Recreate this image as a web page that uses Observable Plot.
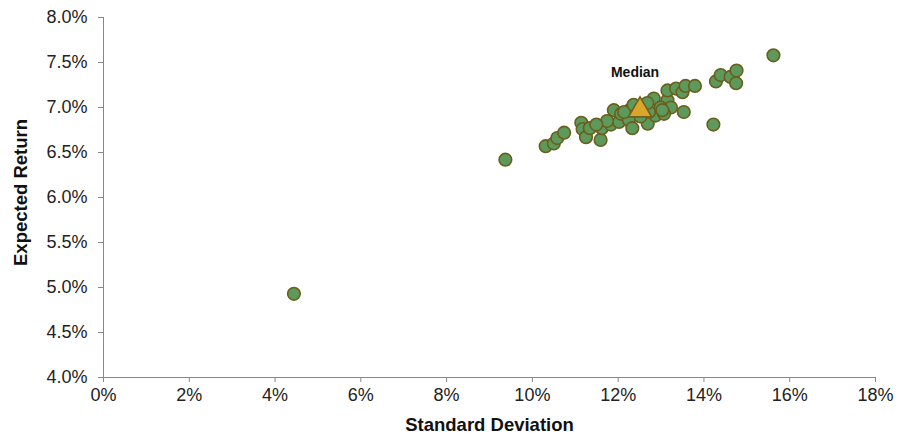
<!DOCTYPE html>
<html>
<head>
<meta charset="utf-8">
<script src="https://cdn.jsdelivr.net/npm/d3@7"></script>
<script src="https://cdn.jsdelivr.net/npm/@observablehq/plot@0.6"></script>
<style>
  body { margin: 0; background: #fff; }
  svg { font-family: "Liberation Sans", Arial, sans-serif; }
</style>
</head>
<body>
<div id="chart"></div>
<script>
// Standard deviation (%) and expected return (%) for each portfolio
const stdDev = [4.44, 9.37, 10.31, 10.50, 10.58, 10.74, 11.14, 11.17, 11.25, 11.34,
  11.59, 11.62, 11.83, 11.90, 12.02, 12.07, 12.25, 12.33, 12.29, 12.14,
  12.69, 12.87, 12.83, 13.15, 13.15, 13.35, 13.50, 13.57, 13.79, 13.23,
  13.07, 13.53, 14.22, 14.28, 14.39, 14.62, 14.76, 14.75, 15.62, 12.72,
  12.99, 12.36, 12.52, 11.74, 11.49, 12.68, 13.03];
const expReturn = [4.93, 6.42, 6.57, 6.60, 6.66, 6.72, 6.83, 6.76, 6.67, 6.77,
  6.64, 6.77, 6.81, 6.97, 6.84, 6.93, 6.86, 6.77, 6.98, 6.95,
  6.82, 6.91, 7.10, 7.08, 7.19, 7.21, 7.17, 7.24, 7.24, 7.00,
  6.93, 6.95, 6.81, 7.29, 7.36, 7.34, 7.41, 7.27, 7.58, 6.95,
  7.00, 7.03, 6.90, 6.85, 6.81, 7.05, 6.97];
const medianStd = [12.51];
const medianRet = [6.97];
const medianLabel = ["Median"];
const xTicks = [0, 2, 4, 6, 8, 10, 12, 14, 16, 18];
const yTicks = [4.0, 4.5, 5.0, 5.5, 6.0, 6.5, 7.0, 7.5, 8.0];
const xTitle = "Standard Deviation";
const yTitle = "Expected Return";

const points = stdDev.map((s, i) => ({x: s, y: expReturn[i]}));
const median = medianStd.map((s, i) => ({x: s, y: medianRet[i], label: medianLabel[i]}));

const chart = Plot.plot({
  width: 901,
  height: 440,
  marginLeft: 103,
  marginRight: 26,
  marginTop: 17,
  marginBottom: 63,
  style: {fontFamily: "'Liberation Sans', Arial, sans-serif", background: "#fff"},
  x: {domain: [0, 18], label: null},
  y: {domain: [4, 8], label: null},
  marks: [
    Plot.axisX({ticks: xTicks, tickFormat: d => d + "%", tickSize: 5, tickPadding: 6,
      fontSize: 18, stroke: "#888", color: "#222", label: null}),
    Plot.axisY({ticks: yTicks, tickFormat: d => d.toFixed(1) + "%", tickSize: 5, tickPadding: 11,
      fontSize: 18, stroke: "#888", color: "#222", label: null}),
    Plot.ruleY([4], {stroke: "#888"}),
    Plot.ruleX([0], {stroke: "#888"}),
    Plot.dot(points, {x: "x", y: "y", r: 6.3, fill: "#5e995c", stroke: "#6a5e1c", strokeWidth: 1.6}),
    Plot.dot(median, {x: "x", y: "y", symbol: "triangle", r: 8.6, fill: "#d9a52b", stroke: "#6f611c", strokeWidth: 1.6}),
    Plot.text(median, {x: "x", y: "y", text: "label", dx: -5, dy: -38, fontSize: 14, fontWeight: "bold", fill: "#111"}),
    Plot.text([xTitle], {frameAnchor: "bottom", dy: 53, fontSize: 18.5, fontWeight: "bold", fill: "#111"}),
    Plot.text([yTitle], {frameAnchor: "left", textAnchor: "middle", lineAnchor: "middle", dx: -82, dy: -5, rotate: -90, fontSize: 18.5, fontWeight: "bold", fill: "#111"})
  ]
});
document.getElementById("chart").appendChild(chart);
</script>
</body>
</html>
